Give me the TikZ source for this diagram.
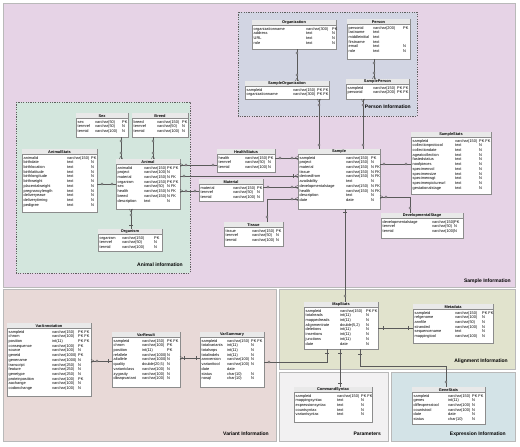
\documentclass[tikz,border=0pt]{standalone}
\usepackage{fontspec}
\setmainfont{Liberation Sans}
\usetikzlibrary{decorations.markings}
\definecolor{samplebg}{HTML}{E6D3E6}
\definecolor{animalbg}{HTML}{D3E6DD}
\definecolor{personbg}{HTML}{D2D5E3}
\definecolor{variantbg}{HTML}{E8D9D7}
\definecolor{alignbg}{HTML}{E1E3CD}
\definecolor{parambg}{HTML}{F2F1F2}
\definecolor{exprbg}{HTML}{D3E3E7}
\definecolor{cnline}{HTML}{5A5A5A}
\definecolor{tabborder}{HTML}{8C8C8C}
\definecolor{hdrbg}{HTML}{E9E9E9}
\colorlet{mk}{white}
\tikzset{
  region/.style={draw=gray!55, line width=0.4pt},
  grp/.style={draw=gray!75!black, dash pattern=on 1.2pt off 1.2pt, line width=0.45pt},
  grouplabel/.style={font=\bfseries\fontsize{5}{6}\selectfont, anchor=east, inner sep=0pt},
  tabbox/.style={draw=tabborder, fill=white, line width=0.4pt, inner sep=0pt, outer sep=0pt},
  tabhead/.style={font=\bfseries\fontsize{3.9}{4.7}\selectfont, inner sep=0pt},
  tabrows/.style={font=\fontsize{3.9}{4.7}\selectfont, inner sep=0pt, anchor=north west},
  cn/.style={draw=cnline, line width=0.55pt},
  mkc/.code={\colorlet{mk}{#1}},
  mkstyle/.style={draw=cnline, line width=0.4pt},
  cS/.style={postaction={decorate,decoration={markings,mark=at position #1 with {\draw[mkstyle,fill=mk] (0pt,0pt) circle (1.1pt);}}}},
  bS/.style={postaction={decorate,decoration={markings,mark=at position #1 with {\draw[mkstyle] (0pt,-1.8pt) -- (0pt,1.8pt);}}}},
  fS/.style={postaction={decorate,decoration={markings,mark=at position 0.01pt with {\draw[mkstyle] (3pt,0pt) -- (0pt,1.8pt) (3pt,0pt) -- (0pt,-1.8pt);}}}},
  fE/.style={postaction={decorate,decoration={markings,mark=at position -0.01pt with {\draw[mkstyle] (-3pt,0pt) -- (0pt,1.8pt) (-3pt,0pt) -- (0pt,-1.8pt);}}}},
}
\newcommand{\ertab}[9]{%
  \node[tabbox, minimum width=#4pt, minimum height=#5pt, anchor=north west] (#1) at (#2,#3) {};
  \fill[hdrbg] ([xshift=0.2pt,yshift=-0.2pt]#1.north west) rectangle ([xshift=-0.2pt,yshift=-5.5pt]#1.north east);
  \draw[draw=tabborder, line width=0.3pt] ([yshift=-5.5pt]#1.north west) -- ([yshift=-5.5pt]#1.north east);
  \node[tabhead] (#1-title) at ([yshift=-2.8pt]#1.north) {#6};
  \node[tabrows] (#1-rows) at ([xshift=1.5pt,yshift=-6.7pt]#1.north west) {\begin{tabular}{@{}p{#7pt}@{}p{#8pt}@{}l@{}}#9\end{tabular}};
}
\begin{document}
\begin{tikzpicture}[x=1pt,y=-1pt]
\useasboundingbox (0,0) rectangle (520,447);
\fill[white] (0,0) rectangle (520,447);
% regions
\draw[region, fill=samplebg] (3,3) rectangle (515,287);
\draw[region, fill=variantbg] (3,289) rectangle (276,441);
\draw[region, fill=alignbg] (279,289) rectangle (515,369);
\draw[region, fill=parambg] (279,372) rectangle (388,441);
\draw[region, fill=exprbg] (391,372) rectangle (515,441);
\draw[grp, fill=animalbg] (16,102) rectangle (190,273);
\draw[grp, fill=personbg] (238,12) rectangle (417,116);
\node[grouplabel] (lab-animal) at (183,265) {Animal information};
\node[grouplabel] (lab-person) at (411,107) {Person Information};
\node[grouplabel] (lab-sample) at (511,281) {Sample Information};
\node[grouplabel] (lab-variant) at (269,434) {Variant Information};
\node[grouplabel] (lab-align) at (508,361) {Alignment Information};
\node[grouplabel] (lab-param) at (381,434) {Parameters};
\node[grouplabel] (lab-expr) at (506,434) {Expression Information};
% tables
\ertab{org}{252}{20}{84}{29}{Organization}{52.5}{26}{organizationname & varchar(300) & PK\\ address & text & N\\ URL & text & N\\ role & text & N}
\ertab{sorg}{245}{81}{84}{18}{SampleOrganization}{46.5}{24}{sampleid & varchar(150) & PK FK\\ organizationname & varchar(300) & PK FK}
\ertab{person}{347}{19}{63}{40}{Person}{24.5}{30}{personid & varchar(200) & PK\\ lastname & text & \\ middleinitial & text & \\ firstname & text & \\ email & text & N\\ role & text & N}
\ertab{sperson}{346}{79}{63}{20}{SamplePerson}{25.5}{24}{sampleid & varchar(150) & PK FK\\ personid & varchar(200) & PK FK}
\ertab{sample}{298}{149}{82}{60}{Sample}{46.5}{25}{sampleid & varchar(150) & PK\\ project & varchar(150) & N\\ material & varchar(150) & N FK\\ tissue & varchar(150) & N FK\\ derivedfrom & varchar(150) & N FK\\ availability & text & N\\ developmentalstage & varchar(150) & N FK\\ health & varchar(150) & N FK\\ description & text & N\\ date & date & N}
\ertab{health}{217}{149}{58}{23}{HealthStatus}{26.5}{23}{health & varchar(150) & PK\\ termref & varchar(50) & N\\ termid & varchar(100) & N}
\ertab{material}{199}{179}{64}{22}{Material}{32.5}{24}{material & varchar(150) & PK\\ termref & varchar(50) & N\\ termid & varchar(100) & N}
\ertab{tissue}{224}{222}{59}{24}{Tissue}{26.5}{24}{tissue & varchar(150) & PK\\ termref & varchar(50) & N\\ termid & varchar(100) & N}
\ertab{sstats}{411}{132}{80}{62}{SampleStats}{42.5}{24}{sampleid & varchar(150) & PK FK\\ collectionprotocol & text & N\\ collectiondate & text & N\\ ageatcollection & text & N\\ fastedstatus & text & N\\ noofpieces & text & N\\ specimenvol & text & N\\ specimensize & text & N\\ specimenwgt & text & N\\ specimenpictureurl & text & N\\ gestationalstage & text & N}
\ertab{devstage}{381}{213}{82}{25}{DevelopmentalStage}{49.5}{22}{developmentalstage & varchar(150) & PK\\ termref & varchar(50) & N\\ termid & varchar(100) & N}
\ertab{animal}{116}{159}{64}{50}{Animal}{26.5}{23}{animalid & varchar(150) & PK FK\\ project & varchar(100) & N\\ material & varchar(150) & N FK\\ organism & varchar(150) & PK FK\\ sex & varchar(50) & N FK\\ health & varchar(150) & N FK\\ breed & varchar(150) & N FK\\ description & text & N}
\ertab{astats}{22}{149}{75}{63}{AnimalStats}{43.5}{24}{animalid & varchar(150) & PK\\ birthdate & text & N\\ birthlocation & text & N\\ birthlatitude & text & N\\ birthlongitude & text & N\\ birthweight & text & N\\ placentalweight & text & N\\ pregnancylength & text & N\\ deliveryease & text & N\\ deliverytiming & text & N\\ pedigree & text & N}
\ertab{sex}{76}{113}{52}{24}{Sex}{17.5}{27}{sex & varchar(50) & PK\\ termref & varchar(50) & N\\ termid & varchar(100) & N}
\ertab{breed}{132}{113}{56}{24}{Breed}{23.5}{25}{breed & varchar(150) & PK\\ termref & varchar(50) & N\\ termid & varchar(100) & N}
\ertab{organism}{98}{229}{64}{22}{Organism}{22.5}{32}{organism & varchar(150) & PK\\ termref & varchar(50) & N\\ termid & varchar(100) & N}
\ertab{varann}{7}{323}{84}{73}{VarAnnotation}{43.5}{26}{sampleid & varchar(150) & PK FK\\ chrom & varchar(100) & PK FK\\ position & int(11) & PK FK\\ consequence & varchar(100) & PK\\ source & varchar(100) & N\\ geneid & varchar(1000) & PK\\ genename & varchar(1000) & N\\ transcript & varchar(250) & N\\ feature & varchar(250) & N\\ genetype & varchar(250) & N\\ proteinposition & varchar(100) & PK\\ aachange & varchar(100) & N\\ codonchange & varchar(100) & N}
\ertab{varres}{112}{332}{68}{55}{VarResult}{28.5}{25}{sampleid & varchar(150) & PK FK\\ chrom & varchar(100) & PK\\ position & int(11) & PK\\ refallele & varchar(1000) & N\\ altallele & varchar(1000) & N\\ quality & double(20,5) & N\\ variantclass & varchar(100) & N\\ zygosity & varchar(100) & N\\ dbsnpvariant & varchar(100) & N}
\ertab{varsum}{200}{332}{64}{55}{VarSummary}{25.5}{24}{sampleid & varchar(150) & PK FK\\ totalvariants & int(11) & N\\ totalsnps & int(11) & N\\ totalindels & int(11) & N\\ annversion & varchar(100) & N\\ varianttool & varchar(100) & N\\ date & date & \\ status & char(10) & N\\ nosql & char(10) & N}
\ertab{mapstats}{304}{302}{74}{47}{MapStats}{34.5}{26}{sampleid & varchar(150) & PK FK\\ totalreads & int(11) & N\\ mappedreads & int(11) & N\\ alignmentrate & double(5,2) & N\\ deletions & int(11) & N\\ insertions & int(11) & N\\ junctions & int(11) & N\\ date & date & N}
\ertab{metadata}{413}{304}{80}{39}{Metadata}{40.5}{27}{sampleid & varchar(150) & PK FK\\ refgenome & varchar(100) & N\\ annfile & varchar(50) & N\\ stranded & varchar(100) & N\\ sequencename & text & N\\ mappingtool & varchar(100) & N}
\ertab{cmdsyn}{294}{387}{78}{35}{CommandSyntax}{41.5}{24}{sampleid & varchar(150) & PK FK\\ mappingsyntax & text & N\\ expressionsyntax & text & N\\ countsyntax & text & N\\ variantsyntax & text & N}
\ertab{genestats}{412}{387}{73}{37}{GeneStats}{34.5}{24}{sampleid & varchar(150) & PK FK\\ genes & int(11) & N\\ diffexpresstool & varchar(100) & N\\ countstool & varchar(100) & N\\ date & date & N\\ status & char(10) & N}
% connectors
\draw[cn, mkc=personbg, cS=4pt, fE, cS=-6pt] (org.south -| 297,0) -- (sorg.north -| 297,0);
\draw[cn, mkc=personbg, cS=4pt, fE, cS=-6pt] (person.south -| 374,0) -- (sperson.north -| 374,0);
\draw[cn, mkc=samplebg, fS, cS=6pt, cS=-4pt] (sorg.south -| 319,0) -- (sample.north -| 319,0);
\draw[cn, mkc=samplebg, fS, cS=6pt, cS=-4pt] (sperson.south -| 363,0) -- (sample.north -| 363,0);
\draw[cn, mkc=animalbg, cS=4pt, fE, cS=-6pt] (sex.south -| 121,0) -- (animal.north -| 121,0);
\draw[cn, mkc=animalbg, cS=4pt, fE, cS=-6pt] (breed.south -| 153,0) -- (animal.north -| 153,0);
\draw[cn, mkc=animalbg, cS=5pt, cS=-4pt] (astats.east |- 0,184) -- (animal.west |- 0,184);
\draw[cn, mkc=animalbg, fS, cS=6pt, bS=-4pt] (animal.south -| 131,0) -- (organism.north -| 131,0);
\draw[cn, mkc=samplebg, fS, cS=6pt, cS=-4pt] (animal.east |- 0,165) -- (health.west |- 0,165);
\draw[cn, mkc=animalbg, cS=4pt, fE, bS=-4.5pt] (animal.east |- 0,176) -- (sample.west |- 0,176);
\draw[cn, mkc=samplebg, fS, cS=6pt, cS=-4pt] (animal.east |- 0,191) -- (material.west |- 0,191);
\draw[cn, mkc=samplebg, cS=5pt, fE, cS=-6pt] (health.east |- 0,158) -- (sample.west |- 0,158);
\draw[cn, mkc=samplebg, cS=5pt, fE, cS=-6pt] (material.east |- 0,187) -- (sample.west |- 0,187);
\draw[cn, mkc=samplebg, cS=5pt, fE, cS=-6pt] (tissue.north -| 267,0) |- (sample.west |- 0,199);
\draw[cn, mkc=samplebg, cS=4pt, cS=-5pt] (sample.east |- 0,164) -- (sstats.west |- 0,164);
\draw[cn, mkc=samplebg, fS, cS=6pt, cS=-5pt] (sample.east |- 0,197) -| (devstage.north -| 410,0);
\draw[cn, mkc=alignbg, bS=3pt, cS=-6pt] (sample.south -| 345,0) -- (mapstats.north -| 345,0);
\draw[cn, mkc=variantbg, fS, cS=6pt, bS=-4pt] (varann.east |- 0,361) -- (varres.west |- 0,361);
\draw[cn, mkc=variantbg, fS, bS=4.5pt, bS=-4pt] (varres.east |- 0,358) -- (varsum.west |- 0,358);
\draw[cn, mkc=variantbg, cS=5pt, bS=-4pt] (varsum.east |- 0,362) -| (mapstats.south -| 327,0);
\draw[cn, mkc=alignbg, bS=5pt, bS=-5pt] (mapstats.east |- 0,328) -- (metadata.west |- 0,328);
\draw[cn, mkc=alignbg, bS=4pt, bS=-4pt] (mapstats.south -| 340,0) -- (cmdsyn.north -| 340,0);
\draw[cn, mkc=exprbg, bS=5pt, cS=-5pt] (mapstats.south -| 360,0) -- ++(0,17) -| (genestats.north -| 446,0);
\end{tikzpicture}
\end{document}
